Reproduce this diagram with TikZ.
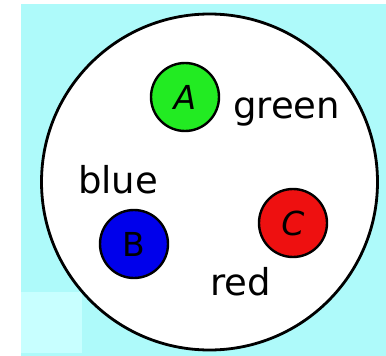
\documentclass[tikz,border=0pt]{standalone}
\usepackage{fontspec}
\setmainfont{DejaVu Sans}
\definecolor{bgcyan}{RGB}{174,250,250}
\definecolor{lightcyan}{RGB}{200,255,255}
\definecolor{ballgreen}{RGB}{34,235,34}
\definecolor{ballblue}{RGB}{0,0,235}
\definecolor{ballred}{RGB}{238,16,16}
\begin{document}
\begin{tikzpicture}[x=1pt,y=-1pt,
  ball/.style={circle, draw=black, line width=2.4pt, minimum size=68pt, inner sep=0pt,
    font=\fontsize{33}{35}\selectfont},
  word/.style={anchor=base west, inner sep=0pt, font=\fontsize{37}{39}\selectfont}]
\useasboundingbox (0,0) rectangle (386,356);
\fill[white] (0,0) rectangle (386,356);
\fill[bgcyan] (21,4) rectangle (386,356);
\fill[lightcyan] (21,292) rectangle (82,353);
\draw[line width=2.8pt, fill=white] (209.5,182) circle[radius=168];
\node[ball, fill=ballgreen] (A) at (185,97) {\itshape A};
\node[ball, fill=ballblue] (B) at (134,244) {B};
\node[ball, fill=ballred] (C) at (293,223) {\itshape C};
\node[word] (green) at (233,118) {green};
\node[word] (blue) at (78,193) {blue};
\node[word] (red) at (210,295) {red};
\end{tikzpicture}
\end{document}
